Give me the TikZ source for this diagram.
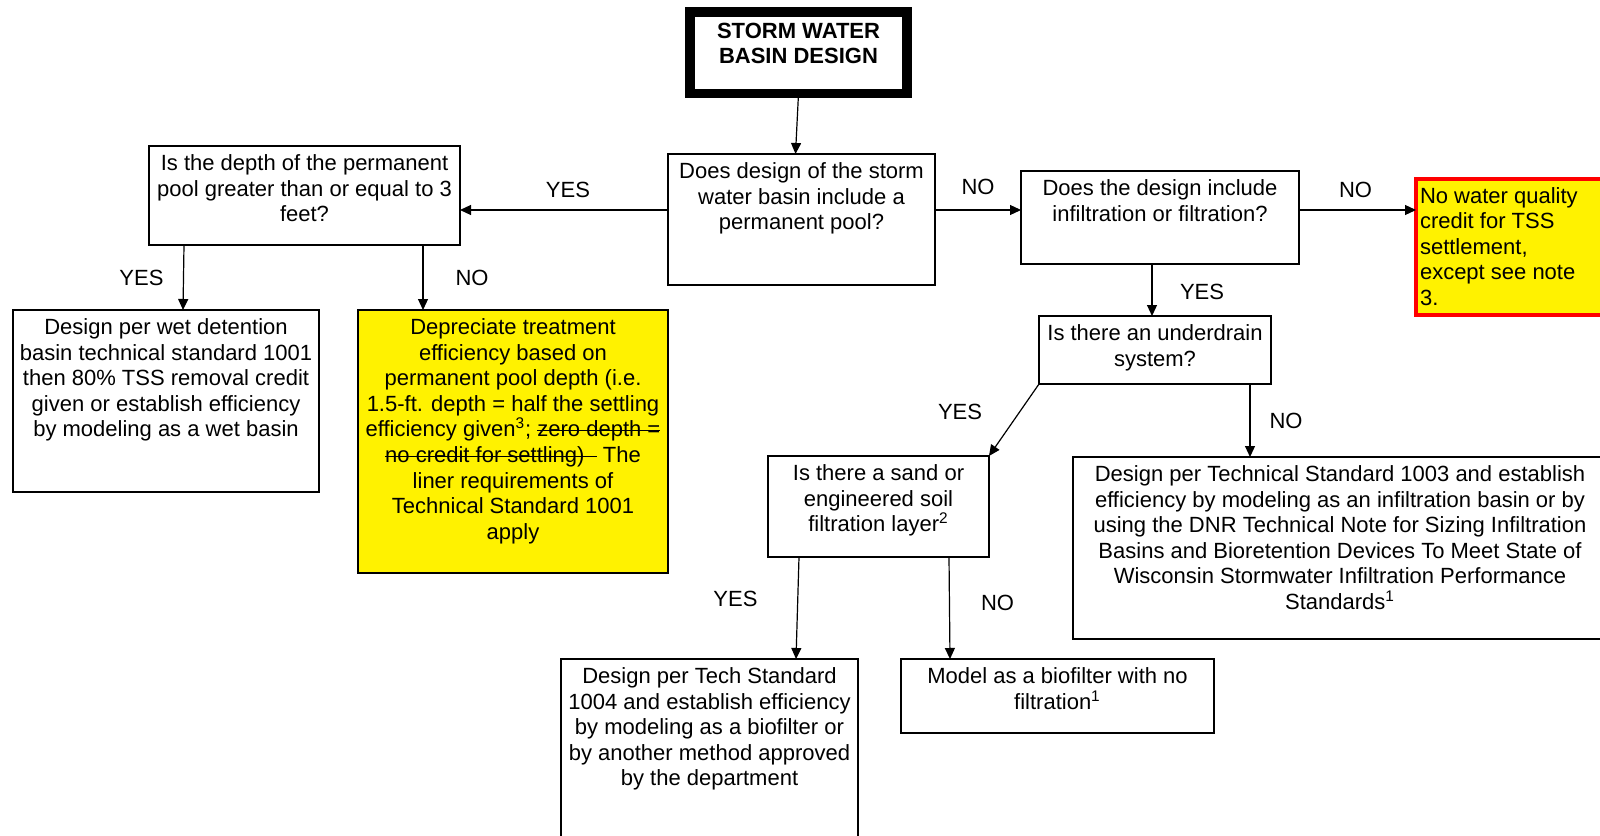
\documentclass[tikz,border=0pt]{standalone}
\usepackage{fontspec}
\setmainfont{Liberation Sans}
\usepackage[dvipsnames]{xcolor}
\usepackage{tikz}
\usetikzlibrary{arrows.meta}
\newlength{\pxu}
\setlength{\pxu}{0.5pt}
\newlength{\strikew}
\newcommand{\strike}[1]{\leavevmode\settowidth{\strikew}{#1}\rlap{#1}\rule[3pt]{\strikew}{0.5pt}}
\newcommand{\boxcell}[3]{\parbox[c][#2\pxu][t]{#1\pxu}{\centering\rule{0pt}{12.25pt}#3}}

\begin{document}
\begin{tikzpicture}[x=0.5pt, y=-0.5pt, font=\fontsize{11}{12.8}\selectfont,
  box/.style={draw, line width=0.6pt, inner sep=0pt, outer sep=0pt, anchor=north west},
  arr/.style={line width=0.6pt, -{Triangle[length=5.5pt,width=5pt]}},
  lbl/.style={inner sep=0pt, midway}]
\useasboundingbox (0,0) rectangle (1600,835);
\node[box, line width=4.75pt] (title) at (690,12) {\parbox[c][81.5\pxu][t]{217\pxu}{\centering\bfseries\rule{0pt}{13pt}STORM WATER\\BASIN DESIGN}};
\node[box] (pool) at (668,154) {\boxcell{267}{131}{Does design of the storm\\water basin include a\\permanent pool?}};
\node[box] (depth) at (149,146) {\boxcell{311}{99}{Is the depth of the permanent\\pool greater than or equal to 3\\feet?}};
\node[box] (infilt) at (1021,171) {\boxcell{278}{93}{Does the design include\\infiltration or filtration?}};
\node[box, draw=red, line width=1.75pt, fill=yellow, inner xsep=2pt] (nocredit) at (1416,179) {\parbox[c][136\pxu][t]{196\pxu}{\raggedright\rule{0pt}{12pt}No water quality\\credit for TSS\\settlement,\\except see note\\3.}};
\node[box] (wet) at (13,310) {\boxcell{306}{182}{Design per wet detention\\basin technical standard 1001\\then 80\% TSS removal credit\\given or establish efficiency\\by modeling as a wet basin}};
\node[box, fill=yellow] (deprec) at (358,310) {\boxcell{310}{263}{Depreciate treatment\\efficiency based on\\permanent pool depth (i.e.\\1.5-ft. depth = half the settling\\efficiency given\textsuperscript{3}; \strike{zero depth =}\\\strike{no credit for settling)\ \ }\ The\\liner requirements of\\Technical Standard 1001\\apply}};
\node[box] (under) at (1039,316) {\boxcell{232}{68}{Is there an underdrain\\system?}};
\node[box] (sand) at (768,456) {\boxcell{221}{101}{Is there a sand or\\engineered soil\\filtration layer\textsuperscript{2}}};
\node[box] (big) at (1073,457) {\boxcell{534}{182}{Design per Technical Standard 1003 and establish\\efficiency by modeling as an infiltration basin or by\\using the DNR Technical Note for Sizing Infiltration\\Basins and Bioretention Devices To Meet State of\\Wisconsin Stormwater Infiltration Performance\\Standards\textsuperscript{1}}};
\node[box] (tech) at (561,659) {\boxcell{297}{200}{Design per Tech Standard\\1004 and establish efficiency\\by modeling as a biofilter or\\by another method approved\\by the department}};
\node[box] (bio) at (901,659) {\boxcell{313}{74}{Model as a biofilter with no\\filtration\textsuperscript{1}}};
\coordinate (row) at ([yshift=-28pt]pool.north west);
\coordinate (drop) at ([xshift=-4pt]infilt.south);
\coordinate (nodrain) at ([xshift=-10.5pt]under.south east);
\draw[arr] (title.south) -- ([xshift=-3pt]pool.north);
\draw[arr] (row) -- node[lbl, xshift=2pt, yshift=10pt] {YES} (row -| depth.east);
\draw[arr] (row -| pool.east) -- node[lbl, yshift=11.5pt] {NO} (row -| infilt.west);
\draw[arr] (row -| infilt.east) -- node[lbl, xshift=-1pt, yshift=10pt] {NO} (row -| nocredit.west);
\draw[arr] ([xshift=17.5pt]depth.south west) -- node[lbl, xshift=-21pt] {YES} ([xshift=85pt]wet.north west);
\draw[arr] ([xshift=137pt]depth.south west) -- node[lbl, xshift=24.5pt] {NO} ([xshift=32.5pt]deprec.north west);
\draw[arr] (drop) -- node[lbl, xshift=25pt, yshift=-1pt] {YES} (drop |- under.north);
\draw[arr] (under.south west) -- node[lbl, xshift=-27pt, yshift=4pt] {YES} (sand.north east);
\draw[arr] (nodrain) -- node[lbl, xshift=18pt] {NO} (nodrain |- big.north);
\draw[arr] ([xshift=15.5pt]sand.south west) -- node[lbl, xshift=-31pt, yshift=4.5pt] {YES} ([xshift=117.5pt]tech.north west);
\draw[arr] ([xshift=90.5pt]sand.south west) -- node[lbl, xshift=24pt, yshift=2.5pt] {NO} ([xshift=24.5pt]bio.north west);
\end{tikzpicture}
\end{document}
